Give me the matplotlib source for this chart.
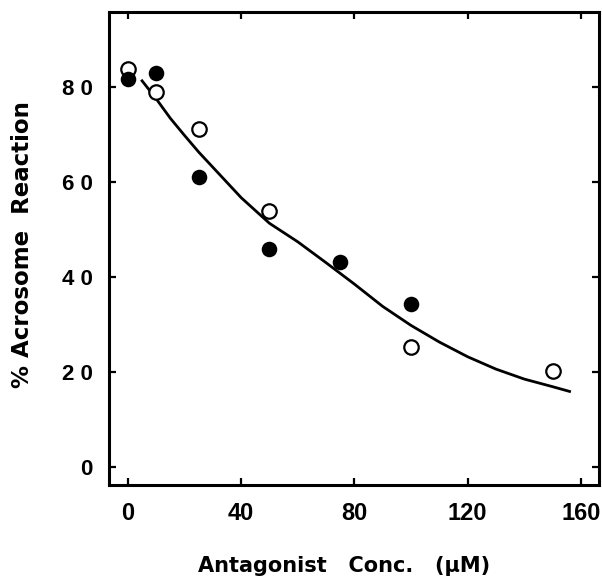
import matplotlib
matplotlib.use("Agg")
import matplotlib.pyplot as plt

# acrosome reaction vs antagonist concentration
filled_conc = [0, 10, 25, 50, 75, 100]
filled_pct = [81.7, 83.0, 61.0, 45.9, 43.2, 34.3]

open_conc = [0, 10, 25, 50, 100, 150]
open_pct = [83.7, 78.9, 71.1, 53.8, 25.3, 20.2]

curve_conc = [5, 10, 15, 20, 25, 30, 40, 50, 60, 70, 80, 90, 100, 110, 120, 130, 140, 150, 156]
curve_pct = [81.3, 77.5, 73.4, 69.8, 66.3, 63.1, 56.7, 51.3, 47.4, 43.0, 38.5, 33.8, 29.8, 26.3, 23.2, 20.6, 18.5, 16.9, 15.9]

xticks = [0, 40, 80, 120, 160]
yticks = [0, 20, 40, 60, 80]
ytick_labels = ["0", "2 0", "4 0", "6 0", "8 0"]

fig = plt.figure(figsize=(6.02, 5.87), dpi=100)
ax = fig.add_axes([0.181, 0.1738, 0.814, 0.8058])

ax.plot(curve_conc, curve_pct, color="black", lw=2.0, zorder=2)
ax.plot(open_conc, open_pct, "o", ms=10.4, mfc="white", mec="black", mew=1.6, zorder=3)
ax.plot(filled_conc, filled_pct, "o", ms=11.2, mfc="black", mec="black", mew=0, zorder=4)

ax.set_xlim(-6.7, 166.4)
ax.set_ylim(-3.8, 95.8)

for s in ax.spines.values():
    s.set_linewidth(2.2)

ax.set_xticks(xticks)
ax.set_xticklabels([str(t) for t in xticks], fontfamily="Liberation Sans", fontweight="bold", fontsize=17)
ax.set_yticks(yticks)
ax.set_yticklabels(ytick_labels, fontfamily="Liberation Sans", fontweight="bold", fontsize=16)
ax.tick_params(axis="both", direction="in", length=5, width=1.6, top=True, right=True)
ax.tick_params(axis="x", pad=12.5)
ax.tick_params(axis="y", pad=11.5)

fig.text(0.572, 0.0256, "Antagonist   Conc.   (\u00b5M)", ha="center", va="baseline",
         fontfamily="DejaVu Sans", fontweight="bold", fontsize=15)
fig.text(0.038, 0.583, "% Acrosome  Reaction", ha="center", va="center", rotation=90,
         fontfamily="DejaVu Sans", fontweight="bold", fontsize=16.5)

fig.savefig("out.png", dpi=100)
